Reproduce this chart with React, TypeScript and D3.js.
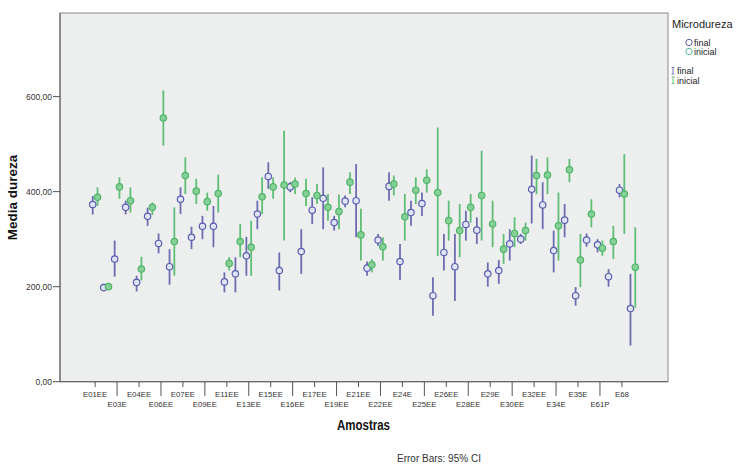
import React from "react";
import * as d3 from "d3";

// Samples on the x axis (every second one is labelled)
const categories = [
  "E01EE", "E02EE", "E03E", "E03EE", "E04EE", "E05EE", "E06EE", "E07E", "E07EE", "E08EE",
  "E09EE", "E10EE", "E11EE", "E12EE", "E13EE", "E14EE", "E15EE", "E16E", "E16EE", "E17E",
  "E17EE", "E18EE", "E19EE", "E20EE", "E21EE", "E22E", "E22EE", "E23EE", "E24E", "E24EE",
  "E25EE", "E26E", "E26EE", "E27EE", "E28EE", "E29", "E29E", "E29EE", "E30EE", "E31EE",
  "E32EE", "E33EE", "E34E", "E34EE", "E35E", "E36E", "E61P", "E62P", "E68", "E69",
];

// Microdureza final: mean and 95% CI bounds
const finalMean = [
  373, 198, 258, 367, 209, 348, 291, 242, 384, 304,
  327, 327, 210, 227, 265, 353, 432, 234, 410, 274,
  361, 386, 335, 380, 381, 239, 298, 411, 253, 356,
  375, 181, 272, 242, 331, 319, 227, 234, 290, 300,
  405, 372, 276, 340, 181, 298, 288, 221, 403, 154,
];
const finalLow = [
  352, 191, 221, 352, 190, 328, 270, 204, 353, 279,
  300, 283, 188, 188, 223, 321, 406, 192, 399, 227,
  332, 321, 318, 367, 304, 223, 286, 381, 214, 328,
  349, 139, 234, 170, 297, 290, 200, 206, 255, 290,
  333, 321, 230, 304, 160, 284, 272, 200, 388, 76,
];
const finalHigh = [
  391, 206, 297, 381, 223, 366, 312, 279, 409, 326,
  349, 370, 230, 262, 305, 381, 462, 272, 420, 321,
  388, 451, 349, 392, 458, 253, 311, 441, 290, 381,
  398, 220, 311, 311, 360, 346, 251, 256, 321, 311,
  476, 420, 318, 374, 199, 312, 300, 237, 416, 227,
];

// Microdureza inicial: mean and 95% CI bounds
const inicialMean = [
  388, 200, 410, 381, 237, 367, 555, 295, 434, 401,
  379, 396, 249, 295, 283, 389, 410, 414, 416, 396,
  392, 367, 358, 420, 309, 246, 284, 416, 347, 403,
  424, 398, 339, 318, 367, 392, 332, 279, 312, 318,
  434, 435, 328, 446, 256, 353, 281, 295, 395, 241,
];
const inicialLow = [
  370, 194, 385, 356, 213, 351, 497, 223, 395, 374,
  360, 356, 234, 262, 223, 353, 385, 297, 395, 370,
  374, 339, 321, 395, 255, 230, 255, 392, 297, 374,
  398, 265, 297, 262, 335, 297, 283, 248, 283, 297,
  395, 395, 255, 420, 199, 325, 265, 258, 311, 156,
];
const inicialHigh = [
  409, 206, 430, 409, 263, 377, 613, 367, 472, 427,
  398, 436, 262, 332, 339, 430, 430, 528, 430, 427,
  416, 395, 394, 441, 364, 258, 304, 434, 395, 430,
  447, 535, 381, 374, 395, 486, 381, 311, 346, 335,
  469, 472, 398, 469, 311, 384, 297, 328, 479, 325,
];

const yTicks = [0, 200, 400, 600];

const BLUE = "#5a5eb0";
const BLUE_BAR = "#6d6cb0";
const BLUE_FILL = "#dfe4f7";
const GREEN = "#4fb566";
const GREEN_BAR = "#5fbe75";
const GREEN_FILL = "#86d198";

const FONT = "'Liberation Sans', Arial, sans-serif";

export default function App() {
  const W = 736;
  const H = 466;
  const left = 60;
  const right = 668;
  const top = 13;
  const bottom = 381.7;

  const x = d3.scalePoint<string>().domain(categories).range([left, right]).padding(3.2);
  const y = d3.scaleLinear().domain([0, 776]).range([bottom, top]);
  const fmt = (v: number) => d3.format(".2f")(v).replace(".", ",");

  const series = [
    { key: "final", mean: finalMean, low: finalLow, high: finalHigh, stroke: BLUE, bar: BLUE_BAR, fill: BLUE_FILL, dx: -2.4 },
    { key: "inicial", mean: inicialMean, low: inicialLow, high: inicialHigh, stroke: GREEN, bar: GREEN_BAR, fill: GREEN_FILL, dx: 2.4 },
  ];

  return (
    <svg
      width={W}
      height={H}
      viewBox={`0 0 ${W} ${H}`}
      style={{ position: "absolute", left: 0, top: 0, display: "block", background: "#fff" }}
      fontFamily={FONT}
    >
      {/* plot area */}
      <rect x={left} y={top} width={right - left} height={bottom - top} fill="#edefef" stroke="#8a8a8a" strokeWidth={1} />
      <line x1={left} x2={left} y1={top} y2={bottom} stroke="#6a6a6a" strokeWidth={1.2} />
      <line x1={left} x2={right} y1={bottom} y2={bottom} stroke="#6a6a6a" strokeWidth={1.2} />

      {/* y axis */}
      {yTicks.map((t) => (
        <g key={t}>
          <line x1={left - 7} x2={left} y1={y(t)} y2={y(t)} stroke="#555" strokeWidth={1} />
          <text x={left - 8} y={y(t) + 3} textAnchor="end" fontSize={8.5} fill="#333">
            {fmt(t)}
          </text>
        </g>
      ))}
      <text
        transform={`translate(17, 197.5) rotate(-90)`}
        textAnchor="middle"
        fontSize={13.5}
        fontWeight="bold"
        fill="#111"
      >
        Media dureza
      </text>

      {/* x axis: every second category labelled, rows alternate */}
      {categories.map((c, i) => {
        if (i % 2 !== 0) return null;
        const lower = (i / 2) % 2 === 1;
        const cx = x(c) as number;
        return (
          <g key={c}>
            <line x1={cx} x2={cx} y1={bottom} y2={lower ? 396 : 387} stroke="#555" strokeWidth={1} />
            <text x={cx} y={lower ? 406.5 : 396.5} textAnchor="middle" fontSize={7.8} fill="#333">
              {c}
            </text>
          </g>
        );
      })}
      <text x={363.5} y={430} textAnchor="middle" fontSize={14} fontWeight="bold" fill="#111" textLength={53} lengthAdjust="spacingAndGlyphs">
        Amostras
      </text>

      {/* error bars */}
      {series.map((s) => (
        <g key={s.key + "-bars"}>
          {categories.map((c, i) => {
            const cx = (x(c) as number) + s.dx;
            return (
              <line key={c} x1={cx} x2={cx} y1={y(s.low[i])} y2={y(s.high[i])} stroke={s.bar} strokeWidth={1.8} />
            );
          })}
        </g>
      ))}

      {/* mean markers */}
      {series.map((s) => (
        <g key={s.key + "-pts"}>
          {categories.map((c, i) => {
            const cx = (x(c) as number) + s.dx;
            return (
              <circle key={c} cx={cx} cy={y(s.mean[i])} r={3.2} fill={s.fill} stroke={s.stroke} strokeWidth={1.2} />
            );
          })}
        </g>
      ))}

      {/* legend */}
      <text x={672} y={28} fontSize={11} fill="#222">Microdureza</text>
      <circle cx={689} cy={42.5} r={3.2} fill="none" stroke={BLUE} strokeWidth={1} />
      <text x={694} y={45.5} fontSize={9} fill="#222">final</text>
      <circle cx={689} cy={51.5} r={3.2} fill="none" stroke="#5bb7a6" strokeWidth={1} />
      <text x={694} y={54.5} fontSize={9} fill="#222">inicial</text>

      <g stroke={BLUE_BAR} strokeWidth={0.9}>
        <line x1={673} x2={673} y1={67.5} y2={74} />
        <line x1={671.5} x2={674.5} y1={67.5} y2={67.5} />
        <line x1={671.5} x2={674.5} y1={74} y2={74} />
      </g>
      <text x={677} y={74} fontSize={9} fill="#222">final</text>
      <g stroke={GREEN_BAR} strokeWidth={0.9}>
        <line x1={673} x2={673} y1={77} y2={83.5} />
        <line x1={671.5} x2={674.5} y1={77} y2={77} />
        <line x1={671.5} x2={674.5} y1={83.5} y2={83.5} />
      </g>
      <text x={677} y={83.5} fontSize={9} fill="#222">inicial</text>

      <text x={397} y={462} fontSize={10} fill="#333">Error Bars: 95% CI</text>
    </svg>
  );
}
